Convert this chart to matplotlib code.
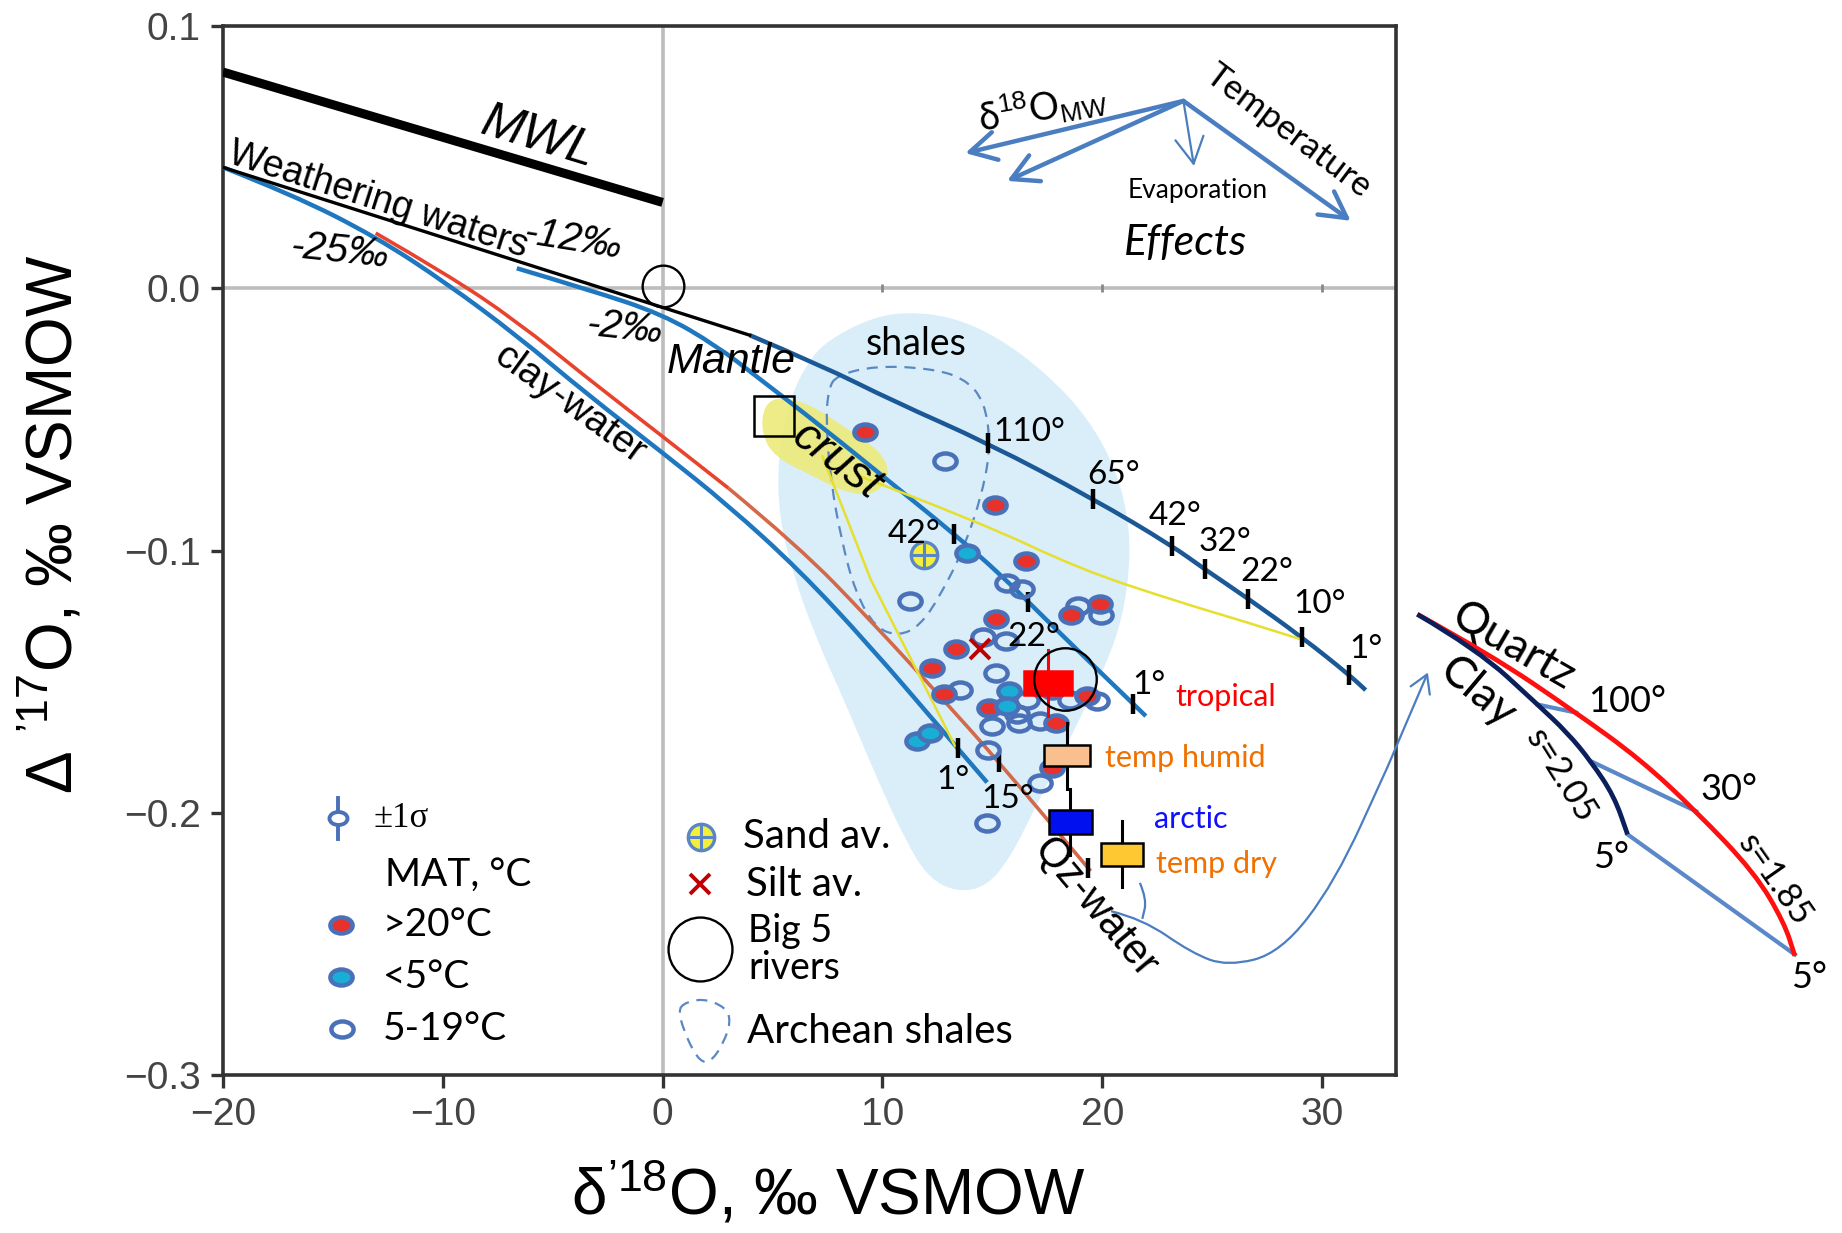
import numpy as np
import matplotlib
matplotlib.use("Agg")
import matplotlib.pyplot as plt
from matplotlib.path import Path
from matplotlib.patches import PathPatch, Rectangle
from matplotlib import font_manager

_names = {f.name for f in font_manager.fontManager.ttflist}


def pick(*cands):
    for c in cands:
        if c in _names:
            return c
    return 'DejaVu Sans'


HELV = pick('Liberation Sans', 'DejaVu Sans')
NARROW = pick('Liberation Sans Narrow', 'Lato')
CALI = pick('Lato', 'Open Sans', 'DejaVu Sans')
SERIF = pick('Liberation Serif', 'DejaVu Serif')

plt.rcParams['font.family'] = [HELV, 'DejaVu Sans']
plt.rcParams['mathtext.fontset'] = 'custom'
plt.rcParams['mathtext.rm'] = HELV
plt.rcParams['mathtext.it'] = HELV + ':italic'
plt.rcParams['mathtext.bf'] = HELV + ':bold'

# ---------------- data ----------------
xticks = [-20, -10, 0, 10, 20, 30]
xtick_labels = ['\u221220', '\u221210', '0', '10', '20', '30']
yticks = [-0.3, -0.2, -0.1, 0.0, 0.1]
ytick_labels = ['\u22120.3', '\u22120.2', '\u22120.1', '0.0', '0.1']

mwl_x = [-20.0, 0.0]
mwl_y = [0.0824, 0.0327]
weather_x = [-20.0, 3.96]
weather_y = [0.0461, -0.0179]

mantle_x = [3.96, 7.27, 10.48, 14.81, 19.57, 23.16, 24.65, 26.63, 29.09, 31.23, 31.98]
mantle_y = [-0.0179, -0.0296, -0.0430, -0.0591, -0.0802, -0.0981, -0.1071, -0.1183, -0.1331, -0.1474, -0.1532]
mantle_tick_x = [14.81, 19.57, 23.16, 24.65, 26.63, 29.09, 31.23]
mantle_tick_lab = ['110°', '65°', '42°', '32°', '22°', '10°', '1°']
mantle_lab_x = [16.68, 20.53, 23.32, 25.56, 27.49, 29.89, 31.98]
mantle_lab_y = [-0.0547, -0.0712, -0.0869, -0.0968, -0.1080, -0.1205, -0.1375]

mid_x = [-6.63, -3.42, 0.0, 2.46, 4.33, 7.27, 10.48, 13.26, 15.36, 17.5, 20.0, 21.98]
mid_y = [0.0076, -0.0004, -0.0099, -0.0220, -0.0340, -0.0530, -0.0748, -0.0937, -0.1090, -0.1268, -0.1471, -0.1631]
mid_tick_x = [13.26, 16.63, 21.39]
mid_tick_lab = ['42°', '22°', '1°']
mid_lab_x = [11.44, 16.88, 22.14]
mid_lab_y = [-0.0936, -0.1331, -0.1514]

clay_x = [-20.0, -16.79, -13.05, -9.84, -6.63, -3.42, 0.0, 2.99, 6.2, 9.41, 12.62, 14.76]
clay_y = [0.0461, 0.0355, 0.0196, 0.0020, -0.0180, -0.0405, -0.0627, -0.0828, -0.1073, -0.1362, -0.1676, -0.1884]
clay_tick_x = [13.42]

qz_x = [-13.05, -9.84, -6.63, -3.42, 0.0, 2.99, 6.2, 9.41, 12.62, 15.29, 19.47]
qz_y = [0.0210, 0.0055, -0.0126, -0.0343, -0.0565, -0.0762, -0.0985, -0.1262, -0.1555, -0.1805, -0.2222]
qz_tick_x = [15.29, 19.36]

yel1_x = [7.27, 9.47, 13.30]
yel1_y = [-0.0641, -0.1111, -0.1745]
yel2_x = [8.98, 14.44, 18.98, 23.32, 26.52, 29.09]
yel2_y = [-0.0717, -0.0892, -0.1071, -0.1192, -0.1272, -0.1340]

shale_x = [7.54, 9.41, 11.02, 13.16, 15.29, 17.43, 19.30, 20.64, 21.28, 21.18, 20.64, 19.57, 18.24,
           16.90, 15.83, 14.76, 13.42, 12.09, 11.02, 9.68, 8.34, 7.01, 5.94, 5.29, 5.24, 5.78, 6.63]
shale_y = [-0.0197, -0.0116, -0.0090, -0.0108, -0.0188, -0.0323, -0.0488, -0.0690, -0.0914, -0.1138,
           -0.1340, -0.1541, -0.1765, -0.1989, -0.2168, -0.2280, -0.2303, -0.2249, -0.2101, -0.1855,
           -0.1586, -0.1340, -0.1093, -0.0869, -0.0645, -0.0421, -0.0278]

arch_x = [7.91, 9.68, 12.09, 13.69, 14.65, 14.92, 14.55, 13.69, 12.62, 11.71, 10.75, 9.68, 8.77, 8.13, 7.65, 7.43, 7.54]
arch_y = [-0.0332, -0.0296, -0.0305, -0.0341, -0.0430, -0.0600, -0.0780, -0.0995, -0.1174, -0.1286,
          -0.1326, -0.1295, -0.1160, -0.0959, -0.0735, -0.0511, -0.0385]

crust_x = [4.60, 5.40, 6.74, 8.34, 9.95, 10.37, 9.68, 8.34, 6.74, 5.13, 4.49]
crust_y = [-0.0444, -0.0412, -0.0444, -0.0533, -0.0623, -0.0712, -0.0789, -0.0780, -0.0712, -0.0645, -0.0556]

# samples by mean annual temperature
hot_x = [9.22, 15.11, 16.53, 18.56, 19.91, 15.18, 13.36, 12.25, 12.78, 14.83, 19.30, 17.90, 17.72]
hot_y = [-0.0549, -0.0828, -0.1040, -0.1246, -0.1205, -0.1260, -0.1375, -0.1447, -0.1548, -0.1599,
         -0.1555, -0.1657, -0.1828]
cold_x = [13.84, 15.74, 15.67, 11.57, 12.18]
cold_y = [-0.1008, -0.1536, -0.1593, -0.1727, -0.1695]
mild_x = [12.83, 15.67, 16.35, 11.27, 18.88, 19.95, 14.57, 15.64, 15.18, 13.51, 16.58, 18.55, 19.76,
          16.12, 14.98, 16.20, 17.18, 14.81, 17.18, 14.76, 17.70]
mild_y = [-0.0659, -0.1123, -0.1148, -0.1193, -0.1210, -0.1245, -0.1328, -0.1345, -0.1466, -0.1530,
          -0.1568, -0.1568, -0.1574, -0.1625, -0.1669, -0.1657, -0.1651, -0.1759, -0.1885, -0.2038, -0.1532]

sand_x, sand_y = [11.90], [-0.1018]
silt_x, silt_y = [14.45], [-0.1375]
rivers_x, rivers_y = [18.32], [-0.1491]
origin_x, origin_y = [0.0], [0.001]
crust_sq_x, crust_sq_y = [5.08], [-0.0488]

box_names = ['tropical', 'temp humid', 'arctic', 'temp dry']
box_x = [17.53, 18.40, 18.55, 20.89]
box_y = [-0.1504, -0.1781, -0.2035, -0.2159]
box_lo = [-0.1631, -0.1909, -0.2159, -0.2282]
box_hi = [-0.1380, -0.1658, -0.1910, -0.2032]

# inset (quartz / clay)
quartz_x = [34.33, 37.65, 41.55, 44.49, 47.01, 49.68, 51.02, 51.50]
quartz_y = [-0.1243, -0.1396, -0.1618, -0.1797, -0.1994, -0.2229, -0.2419, -0.2545]
clay2_x = [34.33, 37.06, 39.80, 41.16, 42.22, 43.28, 43.89]
clay2_y = [-0.1243, -0.1377, -0.1587, -0.1695, -0.1803, -0.1936, -0.2082]
tie_x = [(39.80, 41.55), (42.22, 47.01), (43.89, 51.50)]
tie_y = [(-0.1587, -0.1618), (-0.1803, -0.1994), (-0.2082, -0.2540)]

link_x = [20.40, 21.82, 24.06, 25.69, 28.11, 30.57, 32.99, 34.81]
link_y = [-0.2375, -0.2404, -0.2534, -0.2585, -0.2534, -0.2267, -0.1822, -0.1465]
brace_x = [21.71, 22.03, 21.82]
brace_y = [-0.2267, -0.2330, -0.2404]

eff_origin = (23.69, 0.0714)
eff_tip_x = [13.77, 15.67, 24.17, 31.30]
eff_tip_y = [0.0515, 0.0409, 0.0466, 0.0257]

leg_shape_x = [0.86, 1.82, 2.89, 3.10, 2.78, 2.25, 1.82, 1.39, 0.96, 0.75]
leg_shape_y = [-0.2729, -0.2706, -0.2742, -0.2796, -0.2876, -0.2944, -0.2953, -0.2908, -0.2827, -0.2764]

# ---------------- helpers ----------------
def smooth_path(xs, ys, closed=False):
    P = np.column_stack([xs, ys]).astype(float)
    if closed:
        M = (P + np.roll(P, -1, axis=0)) / 2.0
        verts = [M[-1]]
        codes = [Path.MOVETO]
        for i in range(len(P)):
            verts.extend([P[i], M[i]])
            codes.extend([Path.CURVE3, Path.CURVE3])
        verts.append(M[-1])
        codes.append(Path.CLOSEPOLY)
    else:
        verts = [P[0]]
        codes = [Path.MOVETO]
        for i in range(1, len(P) - 1):
            verts.extend([P[i], (P[i] + P[i + 1]) / 2.0])
            codes.extend([Path.CURVE3, Path.CURVE3])
        verts.append(P[-1])
        codes.append(Path.LINETO)
    return Path(np.array(verts), codes)


def curve(ax, xs, ys, color, lw, z, clip=True):
    ax.add_patch(PathPatch(smooth_path(xs, ys), fc='none', ec=color, lw=lw, zorder=z,
                           clip_on=clip, capstyle='butt', joinstyle='round'))


circ = Path.unit_circle()
ELL = Path(circ.vertices * np.array([1.0, 0.72]), circ.codes)

EDGE = '#4a70b8'
RED = '#e8312a'
CYAN = '#19aed6'
BLUE = '#1f78bf'
NAVY = '#1b5896'
ARROW = '#4a7ec0'

# ---------------- figure ----------------
fig = plt.figure(figsize=(18.42, 12.33), dpi=100)
ax = fig.add_axes([0.121, 0.128, 0.637, 0.851])
ax.set_xlim(-20, 33.37)
ax.set_ylim(-0.3, 0.1)
ax.set_xticks(xticks)
ax.set_xticklabels(xtick_labels)
ax.set_yticks(yticks)
ax.set_yticklabels(ytick_labels)
for s in ax.spines.values():
    s.set_linewidth(2.6)
    s.set_color('#333333')
ax.tick_params(axis='both', direction='out', length=9, width=2.4, color='#333333',
               labelsize=28, labelcolor='#444444', pad=7)

ax.axvline(0, color='#bdbdbd', lw=2.6, zorder=0.7)
ax.axhline(0, color='#bdbdbd', lw=2.6, zorder=0.7)
ax.plot([10, 20, 30], [0, 0, 0], ls='none', marker='|', ms=6, mew=2, color='#888888', zorder=0.8)

# regions
ax.add_patch(PathPatch(smooth_path(shale_x, shale_y, True), fc='#d9eef9', ec='none', zorder=0.5))
ax.add_patch(PathPatch(smooth_path(crust_x, crust_y, True), fc='#ecea7a', ec='none', alpha=0.9, zorder=1))
ax.add_patch(PathPatch(smooth_path(arch_x, arch_y, True), fc='none', ec='#5b88c3', lw=1.6,
                       ls=(0, (5, 3.5)), zorder=2))

# lines
ax.plot(mwl_x, mwl_y, color='k', lw=6.5, solid_capstyle='butt', zorder=3)
curve(ax, mid_x, mid_y, BLUE, 3.2, 2.8)
ax.plot(weather_x, weather_y, color='k', lw=2.4, zorder=3.1)
curve(ax, mantle_x, mantle_y, NAVY, 3.2, 3)
curve(ax, clay_x, clay_y, BLUE, 3.2, 3)
curve(ax, qz_x[:6], qz_y[:6], '#e8432d', 2.6, 3)
curve(ax, qz_x[5:], qz_y[5:], '#d4694a', 2.6, 3)
ax.plot(yel1_x, yel1_y, color='#e6df2e', lw=1.8, zorder=3.2)
curve(ax, yel2_x, yel2_y, '#e6df2e', 1.8, 3.2)

# temperature ticks on curves
tick_kw = dict(ls='none', marker='|', ms=15, mew=3.2, color='k', zorder=4)
ax.plot(mantle_tick_x, np.interp(mantle_tick_x, mantle_x, mantle_y), **tick_kw)
ax.plot(mid_tick_x, np.interp(mid_tick_x, mid_x, mid_y), **tick_kw)
ax.plot(clay_tick_x, np.interp(clay_tick_x, clay_x, clay_y), **tick_kw)
ax.plot(qz_tick_x, np.interp(qz_tick_x, qz_x, qz_y), **tick_kw)

lab_kw = dict(family=[CALI, 'DejaVu Sans'], fontsize=24, ha='center', va='center', zorder=8)
for t, x, y in zip(mantle_tick_lab, mantle_lab_x, mantle_lab_y):
    ax.text(x, y, t, **lab_kw)
for t, x, y in zip(mid_tick_lab, mid_lab_x, mid_lab_y):
    ax.text(x, y, t, **lab_kw)
ax.text(13.21, -0.1873, '1°', **lab_kw)
ax.text(15.70, -0.1946, '15°', **lab_kw)

# samples
pt_kw = dict(ls='none', marker=ELL, ms=16, mec=EDGE, mew=3.2, zorder=5)
ax.plot(mild_x, mild_y, mfc='none', **pt_kw)
ax.plot(hot_x, hot_y, mfc=RED, **pt_kw)
ax.plot(cold_x, cold_y, mfc=CYAN, **pt_kw)

ax.plot(sand_x, sand_y, ls='none', marker='o', ms=19, mfc='#f4ef3a', mec='#5a86c6', mew=2.4, zorder=6)
ax.plot(sand_x, sand_y, ls='none', marker='+', ms=17, mew=2.2, color='#5a86c6', zorder=6.1)
ax.plot(silt_x, silt_y, ls='none', marker='x', ms=14, mew=2.8, color='#c00000', zorder=6)

# boxes with error bars
box_fc = ['#ff0000', '#f9bf8f', '#0010ee', '#fdc832']
box_ec = ['#ff0000', 'k', 'k', 'k']
box_err_c = ['#ff0000', 'k', 'k', 'k']
box_txt_c = ['#ff0000', '#f07000', '#1010ff', '#f07000']
box_w = [2.19, 2.12, 1.97, 1.93]
box_h = [0.0090, 0.0083, 0.0095, 0.0089]
box_lab_x = [23.32, 20.11, 22.35, 22.46]
box_lab_y = [-0.1559, -0.1792, -0.2025, -0.2195]
for i in range(4):
    ax.plot([box_x[i], box_x[i]], [box_lo[i], box_hi[i]], color=box_err_c[i], lw=2.2, zorder=6.5)
    ax.add_patch(Rectangle((box_x[i] - box_w[i] / 2, box_y[i] - box_h[i] / 2), box_w[i], box_h[i],
                           fc=box_fc[i], ec=box_ec[i], lw=1.8, zorder=6.6))
    ax.text(box_lab_x[i], box_lab_y[i], box_names[i], color=box_txt_c[i], fontsize=22,
            family=[CALI, 'DejaVu Sans'], ha='left', va='center', zorder=8)

ax.plot(rivers_x, rivers_y, ls='none', marker='o', ms=45, mfc='none', mec='k', mew=1.7, zorder=7)
ax.plot(origin_x, origin_y, ls='none', marker='o', ms=30, mfc='none', mec='k', mew=1.7, zorder=7)
ax.plot(crust_sq_x, crust_sq_y, ls='none', marker='s', ms=29, mfc='none', mec='k', mew=1.8, zorder=7)

# inline labels
hel = [HELV, 'DejaVu Sans']
ax.text(-5.67, 0.0573, 'MWL', rotation=-17, style='italic', fontsize=36, ha='center', va='center', family=hel)
ax.text(-19.85, 0.0478, 'Weathering waters', rotation=-17.7, rotation_mode='anchor', ha='left',
        va='baseline', fontsize=27, family=hel)
ax.text(-4.06, 0.0184, '-12‰', rotation=-9, style='italic', fontsize=29, ha='center', va='center', family=hel)
ax.text(-14.65, 0.0143, '-25‰', rotation=-6, style='italic', fontsize=29, ha='center', va='center', family=hel)
ax.text(-1.71, -0.0150, '-2‰', rotation=-6, style='italic', fontsize=29, ha='center', va='center', family=hel)
ax.text(3.10, -0.0280, 'Mantle', style='italic', fontsize=31, ha='center', va='center', family=hel, zorder=8)
ax.text(7.91, -0.0659, 'crust', rotation=-37, style='italic', fontsize=33, ha='center', va='center',
        family=hel, zorder=8)
ax.text(-4.22, -0.0444, 'clay-water', rotation=-36, fontsize=28, ha='center', va='center', family=hel)
ax.text(19.68, -0.2361, 'Qz-water', rotation=-50, fontsize=30, ha='center', va='center', family=hel, zorder=8)
ax.text(11.55, -0.0211, 'shales', fontsize=27, ha='center', va='center', family=[CALI, 'DejaVu Sans'])

# effects arrows
for tx, ty, lw in zip(eff_tip_x, eff_tip_y, [3.2, 3.2, 1.6, 3.2]):
    ax.annotate('', xy=(tx, ty), xytext=eff_origin, annotation_clip=False,
                arrowprops=dict(arrowstyle='->,head_length=0.55,head_width=0.3', color=ARROW,
                                lw=lw, shrinkA=0, shrinkB=0, mutation_scale=34))
cal = [CALI, 'DejaVu Sans']
ax.text(17.29, 0.0690, 'δ$^{\\mathrm{18}}$O$_{\\mathrm{MW}}$', rotation=10, fontsize=27,
        ha='center', va='center', family=cal)
ax.text(28.48, 0.0600, 'Temperature', rotation=-37, fontsize=25, ha='center', va='center', family=cal)
ax.text(24.32, 0.0371, 'Evaporation', fontsize=19, ha='center', va='center', family=cal)
ax.text(23.79, 0.0174, 'Effects', style='italic', fontsize=31, ha='center', va='center', family=cal)

# inset curves outside the axes
curve(ax, quartz_x, quartz_y, '#ff1010', 3.4, 5, clip=False)
curve(ax, clay2_x, clay2_y, '#0b1f5c', 3.4, 5, clip=False)
for tx, ty in zip(tie_x, tie_y):
    ax.plot(tx, ty, color='#5a88c8', lw=3.0, clip_on=False, zorder=4.5)
ax.text(38.72, -0.1364, 'Quartz', rotation=-30, fontsize=32, ha='center', va='center', family=cal)
ax.text(37.06, -0.1541, 'Clay', rotation=-40, fontsize=32, ha='center', va='center', family=cal)
ax.text(40.86, -0.1859, 's=2.05', rotation=-58, fontsize=25, ha='center', va='center', family=cal)
ax.text(50.57, -0.2254, 's=1.85', rotation=-55, fontsize=25, ha='center', va='center', family=cal)
ax.text(43.89, -0.1574, '100°', fontsize=26, ha='center', va='center', family=cal)
ax.text(48.52, -0.1911, '30°', fontsize=26, ha='center', va='center', family=cal)
ax.text(43.13, -0.2172, '5°', fontsize=26, ha='center', va='center', family=cal)
ax.text(52.16, -0.2629, '5°', fontsize=26, ha='center', va='center', family=cal)

# link arrow
curve(ax, link_x[:-1], link_y[:-1], ARROW, 1.6, 4, clip=False)
ax.annotate('', xy=(link_x[-1], link_y[-1]), xytext=(link_x[-2], link_y[-2]), annotation_clip=False,
            arrowprops=dict(arrowstyle='->,head_length=0.5,head_width=0.3', color=ARROW, lw=1.6,
                            shrinkA=0, shrinkB=0, mutation_scale=25))
curve(ax, brace_x, brace_y, ARROW, 1.6, 4)

# legends
nar = [NARROW, 'DejaVu Sans']
ax.plot([-14.76, -14.76], [-0.2099, -0.1943], color=EDGE, lw=2.8, zorder=5)
ax.plot([-14.76], [-0.2021], ls='none', marker=ELL, ms=13, mfc='white', mec=EDGE, mew=2.8, zorder=5.1)
ax.text(-13.16, -0.2021, '±1σ', fontsize=25, ha='left', va='center', family=[SERIF, 'DejaVu Serif'])
ax.text(-12.62, -0.2236, 'MAT, °C', fontsize=28, ha='left', va='center', family=nar)
ax.plot([-14.65], [-0.2428], mfc=RED, **pt_kw)
ax.plot([-14.65], [-0.2625], mfc=CYAN, **pt_kw)
ax.plot([-14.60], [-0.2823], mfc='none', **pt_kw)
ax.text(-12.73, -0.2428, '>20°C', fontsize=28, ha='left', va='center', family=nar)
ax.text(-12.73, -0.2625, '<5°C', fontsize=28, ha='left', va='center', family=nar)
ax.text(-12.73, -0.2823, '5-19°C', fontsize=28, ha='left', va='center', family=nar)

ax.plot([1.76], [-0.2092], ls='none', marker='o', ms=19, mfc='#f4ef3a', mec='#5a86c6', mew=2.4, zorder=6)
ax.plot([1.76], [-0.2092], ls='none', marker='+', ms=17, mew=2.2, color='#5a86c6', zorder=6.1)
ax.text(3.64, -0.2092, 'Sand av.', fontsize=29, ha='left', va='center', family=nar)
ax.plot([1.71], [-0.2272], ls='none', marker='x', ms=14, mew=2.8, color='#c00000', zorder=6)
ax.text(3.80, -0.2272, 'Silt av.', fontsize=29, ha='left', va='center', family=nar)
ax.plot([1.71], [-0.2518], ls='none', marker='o', ms=46, mfc='none', mec='k', mew=1.7, zorder=7)
ax.text(3.90, -0.2452, 'Big 5', fontsize=27, ha='left', va='center', family=nar)
ax.text(3.90, -0.2592, 'rivers', fontsize=27, ha='left', va='center', family=nar)
ax.add_patch(PathPatch(smooth_path(leg_shape_x, leg_shape_y, True), fc='none', ec='#5b88c3', lw=1.6,
                       ls=(0, (5, 3.5)), zorder=2))
ax.text(3.85, -0.2832, 'Archean shales', fontsize=29, ha='left', va='center', family=nar)

# axis labels
fig.text(0.4495, 0.032, 'δ$^{\\mathrm{\u201918}}$O, ‰ VSMOW', fontsize=46, ha='center', va='center',
         family=hel)
fig.text(0.028, 0.575, 'Δ $^{\\mathrm{\u201917}}$O, ‰ VSMOW', fontsize=46, ha='center', va='center',
         rotation=90, family=hel)

fig.savefig('out.png', dpi=100)
